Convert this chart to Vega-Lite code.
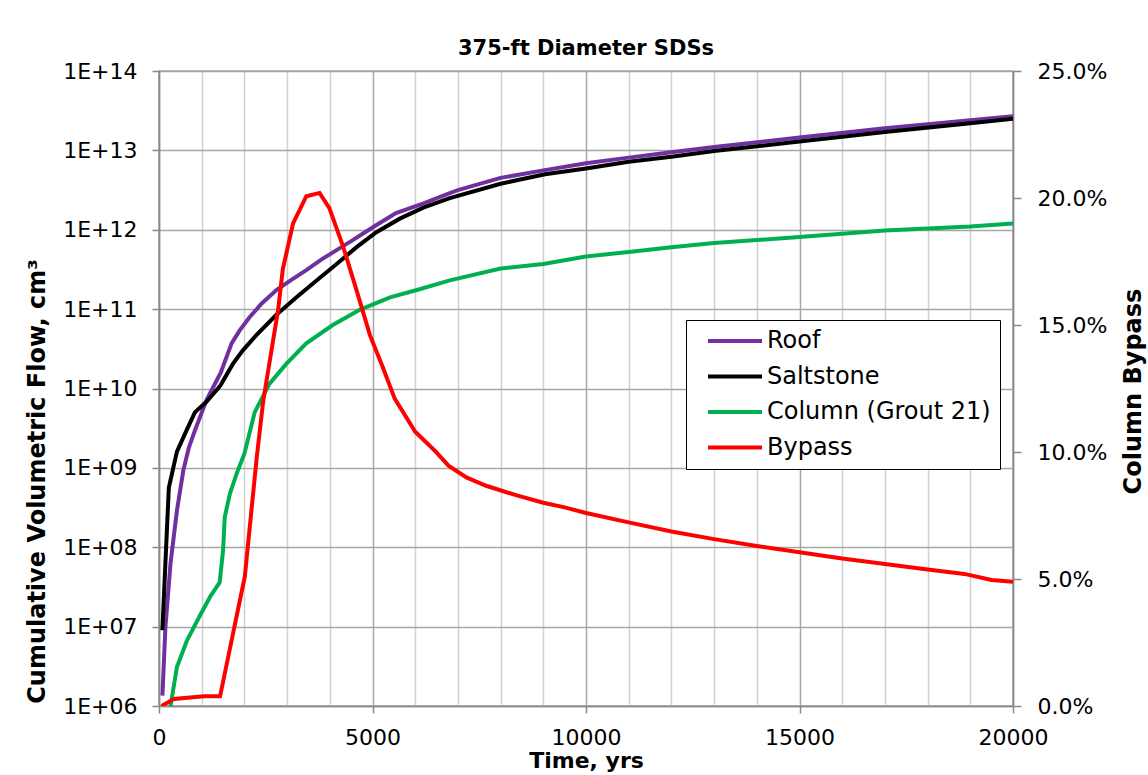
{
  "$schema": "https://vega.github.io/schema/vega-lite/v6.json",
  "autosize": "none",
  "width": 854,
  "height": 635,
  "padding": {"left": 159, "top": 71, "right": 135, "bottom": 69},
  "background": "white",
  "title": {"text": "375-ft Diameter SDSs", "font": "DejaVu Sans", "fontSize": 21, "fontWeight": "bold", "color": "black", "anchor": "middle", "offset": 1},
  "config": {
    "view": {"stroke": "#a0a0a0", "strokeWidth": 1.5},
    "axis": {"labelFont": "DejaVu Sans", "labelFontSize": 22, "labelColor": "black", "titleFont": "DejaVu Sans", "titleFontSize": 24, "titleFontWeight": "bold", "titleColor": "black", "domainColor": "#888888", "domainWidth": 1.5, "tickColor": "#888888", "tickWidth": 1.5},
    "legend": {"labelFont": "DejaVu Sans", "labelFontSize": 24, "labelColor": "black"}
  },
  "datasets": {
    "flow": [
      {"series": "Roof", "t": 80, "v": 1.35e6},
      {"series": "Roof", "t": 150, "v": 9.8e6},
      {"series": "Roof", "t": 270, "v": 6.3e7},
      {"series": "Roof", "t": 420, "v": 2.9e8},
      {"series": "Roof", "t": 570, "v": 9.3e8},
      {"series": "Roof", "t": 700, "v": 1.8e9},
      {"series": "Roof", "t": 840, "v": 2.95e9},
      {"series": "Roof", "t": 1110, "v": 7.1e9},
      {"series": "Roof", "t": 1350, "v": 1.26e10},
      {"series": "Roof", "t": 1450, "v": 1.6e10},
      {"series": "Roof", "t": 1700, "v": 3.7e10},
      {"series": "Roof", "t": 1890, "v": 5.4e10},
      {"series": "Roof", "t": 2120, "v": 7.9e10},
      {"series": "Roof", "t": 2400, "v": 1.17e11},
      {"series": "Roof", "t": 2750, "v": 1.74e11},
      {"series": "Roof", "t": 3100, "v": 2.34e11},
      {"series": "Roof", "t": 3450, "v": 3.1e11},
      {"series": "Roof", "t": 3800, "v": 4.2e11},
      {"series": "Roof", "t": 4150, "v": 5.5e11},
      {"series": "Roof", "t": 4500, "v": 7.2e11},
      {"series": "Roof", "t": 4770, "v": 8.9e11},
      {"series": "Roof", "t": 5150, "v": 1.2e12},
      {"series": "Roof", "t": 5550, "v": 1.62e12},
      {"series": "Roof", "t": 6180, "v": 2.14e12},
      {"series": "Roof", "t": 6810, "v": 2.9e12},
      {"series": "Roof", "t": 7000, "v": 3.16e12},
      {"series": "Roof", "t": 8000, "v": 4.5e12},
      {"series": "Roof", "t": 9000, "v": 5.6e12},
      {"series": "Roof", "t": 10000, "v": 6.9e12},
      {"series": "Roof", "t": 11000, "v": 8.1e12},
      {"series": "Roof", "t": 12000, "v": 9.5e12},
      {"series": "Roof", "t": 13000, "v": 1.1e13},
      {"series": "Roof", "t": 15000, "v": 1.45e13},
      {"series": "Roof", "t": 17000, "v": 1.9e13},
      {"series": "Roof", "t": 19000, "v": 2.4e13},
      {"series": "Roof", "t": 20000, "v": 2.7e13},
      {"series": "Saltstone", "t": 80, "v": 9e6},
      {"series": "Saltstone", "t": 150, "v": 6.3e7},
      {"series": "Saltstone", "t": 230, "v": 5.6e8},
      {"series": "Saltstone", "t": 420, "v": 1.6e9},
      {"series": "Saltstone", "t": 610, "v": 2.7e9},
      {"series": "Saltstone", "t": 840, "v": 5.0e9},
      {"series": "Saltstone", "t": 1110, "v": 6.8e9},
      {"series": "Saltstone", "t": 1380, "v": 1.0e10},
      {"series": "Saltstone", "t": 1450, "v": 1.12e10},
      {"series": "Saltstone", "t": 1730, "v": 2.04e10},
      {"series": "Saltstone", "t": 1960, "v": 3.0e10},
      {"series": "Saltstone", "t": 2280, "v": 4.7e10},
      {"series": "Saltstone", "t": 2750, "v": 8.5e10},
      {"series": "Saltstone", "t": 3220, "v": 1.41e11},
      {"series": "Saltstone", "t": 3690, "v": 2.3e11},
      {"series": "Saltstone", "t": 4160, "v": 3.7e11},
      {"series": "Saltstone", "t": 4620, "v": 6.0e11},
      {"series": "Saltstone", "t": 5090, "v": 9.3e11},
      {"series": "Saltstone", "t": 5640, "v": 1.38e12},
      {"series": "Saltstone", "t": 6190, "v": 1.9e12},
      {"series": "Saltstone", "t": 6810, "v": 2.5e12},
      {"series": "Saltstone", "t": 8000, "v": 3.8e12},
      {"series": "Saltstone", "t": 9040, "v": 5.0e12},
      {"series": "Saltstone", "t": 10000, "v": 5.9e12},
      {"series": "Saltstone", "t": 11000, "v": 7.2e12},
      {"series": "Saltstone", "t": 12000, "v": 8.3e12},
      {"series": "Saltstone", "t": 13000, "v": 9.8e12},
      {"series": "Saltstone", "t": 15000, "v": 1.29e13},
      {"series": "Saltstone", "t": 17000, "v": 1.7e13},
      {"series": "Saltstone", "t": 19000, "v": 2.2e13},
      {"series": "Saltstone", "t": 20000, "v": 2.5e13},
      {"series": "Column (Grout 21)", "t": 270, "v": 1.0e6},
      {"series": "Column (Grout 21)", "t": 420, "v": 3.1e6},
      {"series": "Column (Grout 21)", "t": 650, "v": 6.6e6},
      {"series": "Column (Grout 21)", "t": 960, "v": 1.38e7},
      {"series": "Column (Grout 21)", "t": 1200, "v": 2.4e7},
      {"series": "Column (Grout 21)", "t": 1420, "v": 3.6e7},
      {"series": "Column (Grout 21)", "t": 1500, "v": 9.1e7},
      {"series": "Column (Grout 21)", "t": 1540, "v": 2.4e8},
      {"series": "Column (Grout 21)", "t": 1660, "v": 4.7e8},
      {"series": "Column (Grout 21)", "t": 1820, "v": 8.5e8},
      {"series": "Column (Grout 21)", "t": 2000, "v": 1.51e9},
      {"series": "Column (Grout 21)", "t": 2240, "v": 5.0e9},
      {"series": "Column (Grout 21)", "t": 2590, "v": 1.15e10},
      {"series": "Column (Grout 21)", "t": 2980, "v": 2.04e10},
      {"series": "Column (Grout 21)", "t": 3450, "v": 3.7e10},
      {"series": "Column (Grout 21)", "t": 4070, "v": 6.3e10},
      {"series": "Column (Grout 21)", "t": 4700, "v": 9.8e10},
      {"series": "Column (Grout 21)", "t": 5410, "v": 1.41e11},
      {"series": "Column (Grout 21)", "t": 6040, "v": 1.74e11},
      {"series": "Column (Grout 21)", "t": 6810, "v": 2.3e11},
      {"series": "Column (Grout 21)", "t": 8000, "v": 3.24e11},
      {"series": "Column (Grout 21)", "t": 9000, "v": 3.7e11},
      {"series": "Column (Grout 21)", "t": 10000, "v": 4.6e11},
      {"series": "Column (Grout 21)", "t": 11000, "v": 5.25e11},
      {"series": "Column (Grout 21)", "t": 12000, "v": 6.0e11},
      {"series": "Column (Grout 21)", "t": 13000, "v": 6.8e11},
      {"series": "Column (Grout 21)", "t": 15000, "v": 8.1e11},
      {"series": "Column (Grout 21)", "t": 17000, "v": 9.8e11},
      {"series": "Column (Grout 21)", "t": 19000, "v": 1.1e12},
      {"series": "Column (Grout 21)", "t": 20000, "v": 1.2e12}
    ],
    "bypass": [
      {"series": "Bypass", "t": 60, "p": 0.0},
      {"series": "Bypass", "t": 350, "p": 0.0028},
      {"series": "Bypass", "t": 1050, "p": 0.0038},
      {"series": "Bypass", "t": 1430, "p": 0.0038},
      {"series": "Bypass", "t": 2010, "p": 0.051},
      {"series": "Bypass", "t": 2290, "p": 0.098},
      {"series": "Bypass", "t": 2440, "p": 0.12},
      {"series": "Bypass", "t": 2790, "p": 0.156},
      {"series": "Bypass", "t": 2900, "p": 0.172},
      {"series": "Bypass", "t": 3140, "p": 0.19},
      {"series": "Bypass", "t": 3450, "p": 0.2007},
      {"series": "Bypass", "t": 3760, "p": 0.202},
      {"series": "Bypass", "t": 3990, "p": 0.196},
      {"series": "Bypass", "t": 4310, "p": 0.181},
      {"series": "Bypass", "t": 4620, "p": 0.164},
      {"series": "Bypass", "t": 4940, "p": 0.146},
      {"series": "Bypass", "t": 5250, "p": 0.133},
      {"series": "Bypass", "t": 5520, "p": 0.121},
      {"series": "Bypass", "t": 6000, "p": 0.108},
      {"series": "Bypass", "t": 6460, "p": 0.1005},
      {"series": "Bypass", "t": 6780, "p": 0.0946},
      {"series": "Bypass", "t": 7200, "p": 0.09},
      {"series": "Bypass", "t": 7660, "p": 0.0867},
      {"series": "Bypass", "t": 8400, "p": 0.0828},
      {"series": "Bypass", "t": 9000, "p": 0.08},
      {"series": "Bypass", "t": 9500, "p": 0.0782},
      {"series": "Bypass", "t": 10000, "p": 0.076},
      {"series": "Bypass", "t": 11000, "p": 0.0723},
      {"series": "Bypass", "t": 12000, "p": 0.0687},
      {"series": "Bypass", "t": 13000, "p": 0.0657},
      {"series": "Bypass", "t": 14000, "p": 0.063},
      {"series": "Bypass", "t": 15000, "p": 0.0605},
      {"series": "Bypass", "t": 16000, "p": 0.0581},
      {"series": "Bypass", "t": 17000, "p": 0.0559},
      {"series": "Bypass", "t": 18000, "p": 0.0537},
      {"series": "Bypass", "t": 18860, "p": 0.052},
      {"series": "Bypass", "t": 19500, "p": 0.0496},
      {"series": "Bypass", "t": 20000, "p": 0.0489}
    ]
  },
  "encoding": {
    "x": {
      "field": "t", "type": "quantitative",
      "scale": {"domain": [0, 20000], "nice": false},
      "axis": {
        "title": "Time, yrs",
        "titleFontSize": 22,
        "values": [0,1000,2000,3000,4000,5000,6000,7000,8000,9000,10000,11000,12000,13000,14000,15000,16000,17000,18000,19000,20000],
        "format": "d",
        "labelExpr": "datum.value % 5000 === 0 ? datum.label : ''",
        "grid": true,
        "gridColor": {"condition": {"test": "datum.value % 5000 === 0", "value": "#a6a6a6"}, "value": "#d0d0d0"},
        "gridWidth": 1.5,
        "tickSize": 7,
        "tickOpacity": {"condition": {"test": "datum.value % 5000 === 0", "value": 1}, "value": 0},
        "labelPadding": 14,
        "titlePadding": 2,
        "labelFlush": false,
        "labelOverlap": false
      }
    }
  },
  "layer": [
    {
      "data": {"name": "flow"},
      "mark": {"type": "line", "strokeWidth": 4, "clip": true},
      "encoding": {
        "y": {
          "field": "v", "type": "quantitative",
          "scale": {"type": "log", "domain": [1e6, 1e14], "nice": false},
          "axis": {
            "title": "Cumulative Volumetric Flow, cm³",
            "values": [1e6, 1e7, 1e8, 1e9, 1e10, 1e11, 1e12, 1e13, 1e14],
            "labelExpr": "'1E+' + format(round(log(datum.value)/LN10), '02d')",
            "grid": true,
            "gridColor": "#a6a6a6",
            "gridWidth": 1.5,
            "tickSize": 7,
            "labelPadding": 15,
            "titleAngle": -90,
            "titleX": -122,
            "titleY": 410,
            "titleAlign": "center",
            "titleBaseline": "middle"
          }
        },
        "color": {
          "field": "series", "type": "nominal",
          "scale": {"domain": ["Roof", "Saltstone", "Column (Grout 21)", "Bypass"], "range": ["#7030A0", "#000000", "#00B050", "#FF0000"]},
          "legend": {
            "title": null,
            "orient": "none",
            "legendX": 527,
            "legendY": 249,
            "direction": "vertical",
            "symbolType": "M0.17,0L9.17,0",
            "symbolSize": 144,
            "symbolStrokeWidth": 4,
            "symbolFillColor": "transparent",
            "labelOffset": 48,
            "labelLimit": 400,
            "strokeColor": "black",
            "fillColor": "white",
            "padding": 9,
            "rowPadding": 11.5
          }
        }
      }
    },
    {
      "data": {"name": "bypass"},
      "mark": {"type": "line", "strokeWidth": 4, "clip": true},
      "encoding": {
        "y": {
          "field": "p", "type": "quantitative",
          "scale": {"domain": [0, 0.25], "nice": false},
          "axis": {
            "orient": "right",
            "title": "Column Bypass",
            "values": [0, 0.05, 0.1, 0.15, 0.2, 0.25],
            "format": ".1%",
            "grid": false,
            "tickSize": 8,
            "labelPadding": 16,
            "titleAngle": -90,
            "titleX": 120,
            "titleY": 320,
            "titleAlign": "center",
            "titleBaseline": "middle"
          }
        },
        "color": {"field": "series", "type": "nominal"}
      }
    }
  ],
  "resolve": {"scale": {"y": "independent"}, "axis": {"y": "independent"}}
}
